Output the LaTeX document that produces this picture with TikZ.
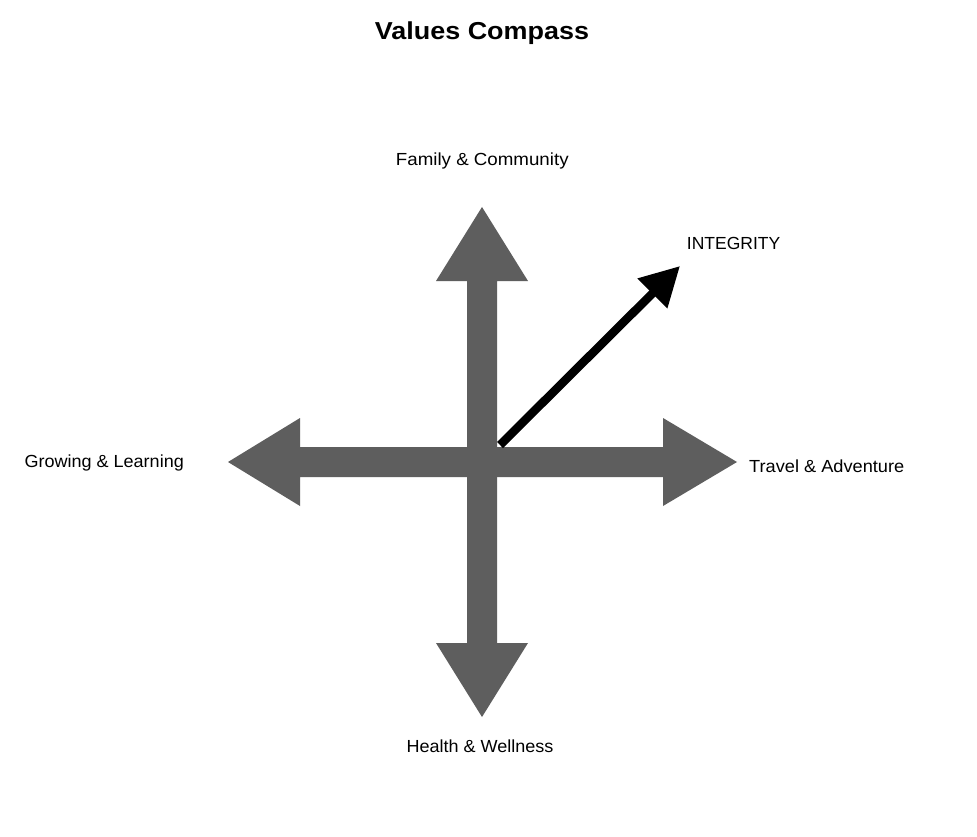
\documentclass[tikz,border=0pt]{standalone}
\usepackage{fontspec}
\usepackage{graphicx}
\setmainfont{Liberation Sans}
\usetikzlibrary{arrows.meta}
\definecolor{bigarrow}{HTML}{5E5E5E}
\tikzset{
  lbl/.style={inner sep=0pt, anchor=base, font=\fontsize{17.5}{20}\selectfont},
  ttl/.style={inner sep=0pt, anchor=base, font=\fontsize{24.5}{28}\bfseries\selectfont},
  bigshape/.style={fill=bigarrow, draw=none},
  pointer/.style={draw=black, line width=8.5pt, -{Triangle[length=39pt,width=40pt]}}
}
\begin{document}
\begin{tikzpicture}[x=1pt,y=-1pt]
\useasboundingbox[fill=white] (0,0) rectangle (977,837);
\coordinate (c) at (482,462);
% vertical arrow
\fill[bigshape] (467,281) -- (436,281) -- (482,207) -- (528,281) -- (497,281)
  -- (497,643) -- (528,643) -- (482,717) -- (436,643) -- (467,643) -- cycle;
% horizontal arrow
\fill[bigshape] (300,447) -- (300,418) -- (228,462) -- (300,506) -- (300,477)
  -- (663,477) -- (663,506) -- (737,462) -- (663,418) -- (663,447) -- cycle;
% integrity pointer
\coordinate (ps) at (500,445);
\coordinate (pt) at (680,266);
\draw[pointer] (ps) -- (pt);
% labels
\node[ttl] (title) at (482,39.3) {\scalebox{1.1}[1]{Values Compass}};
\node[lbl] (n) at (482.3,165.7) {\scalebox{1.07}[1]{Family \& Community}};
\node[lbl] (integ) at (733.6,249) {INTEGRITY};
\node[lbl] (w) at (104.2,467.3) {\scalebox{1.03}[1]{Growing \& Learning}};
\node[lbl] (e) at (826.7,472) {\scalebox{1.04}[1]{Travel \& Adventure}};
\node[lbl] (s) at (480,752) {\scalebox{1.03}[1]{Health \& Wellness}};
\end{tikzpicture}
\end{document}
